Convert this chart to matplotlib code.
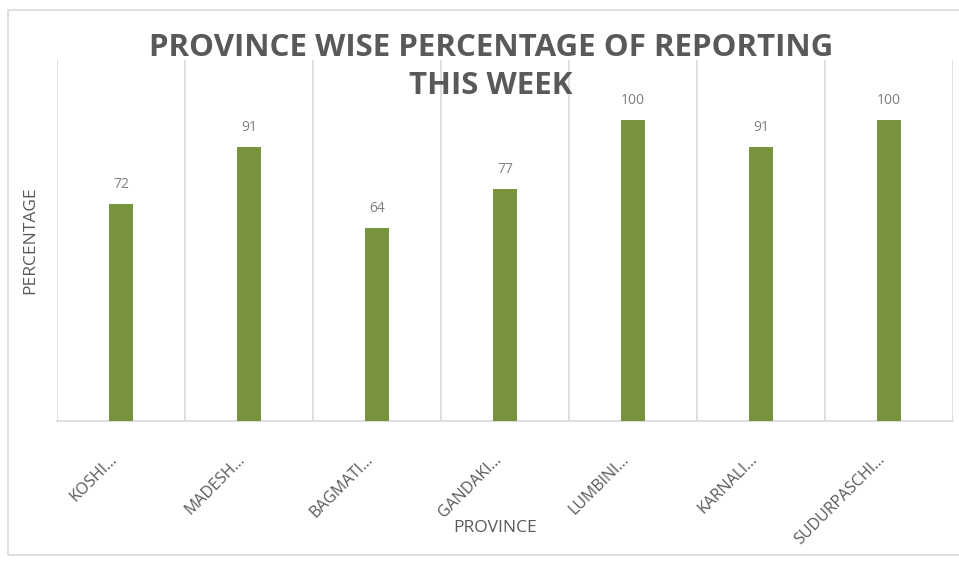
import matplotlib.pyplot as plt
import matplotlib.transforms as mtransforms
from matplotlib.patches import Rectangle

provinces = ["KOSHI…", "MADESH…", "BAGMATI…", "GANDAKI…", "LUMBINI…", "KARNALI…", "SUDURPASCHI…"]
percentage = [72, 91, 64, 77, 100, 91, 100]

bar_colour = "#77933C"
grid_colour = "#D9D9D9"
text_grey = "#595959"

W, H = 959, 561
fig = plt.figure(figsize=(W / 100, H / 100), dpi=100)
ax = fig.add_axes([57 / W, 1 - 421 / H, (953 - 57) / W, (421 - 60) / H])

x = list(range(len(provinces)))
bars = ax.bar(x, percentage, width=0.19, color=bar_colour, zorder=3)
ax.bar_label(bars, labels=[str(v) for v in percentage], padding=9,
             color="#7F7F7F", fontsize=10, family="Open Sans")

ax.set_xlim(-0.5, len(provinces) - 0.5)
ax.set_ylim(0, 120)

# vertical separators between categories
for b in range(len(provinces) + 1):
    ax.axvline(b - 0.5, color=grid_colour, linewidth=1.2, zorder=1)

for side in ["left", "right", "top"]:
    ax.spines[side].set_visible(False)
ax.spines["bottom"].set_color(grid_colour)
ax.spines["bottom"].set_linewidth(1.2)
ax.set_yticks([])
ax.set_xticks(x)
ax.set_xticklabels(provinces, rotation=45, ha="right", va="center",
                   rotation_mode="anchor", color=text_grey, fontsize=11.5,
                   family="Open Sans")
ax.tick_params(axis="x", length=0, pad=26)
offset = mtransforms.ScaledTranslation(-0.06, 0, fig.dpi_scale_trans)
for lab in ax.get_xticklabels():
    lab.set_transform(lab.get_transform() + offset)

fig.text(495 / W, 1 - 528 / H, "PROVINCE", ha="center", va="center",
         color=text_grey, fontsize=12.5, family="Open Sans")
fig.text(30 / W, 1 - 240 / H, "PERCENTAGE", ha="center", va="center",
         rotation=90, color=text_grey, fontsize=12.5, family="Open Sans")

fig.text(491 / W, 1 - 67 / H, "PROVINCE WISE PERCENTAGE OF REPORTING\nTHIS WEEK",
         ha="center", va="center", color=text_grey, fontsize=22.5,
         fontweight="bold", family="Open Sans", linespacing=1.36)

# outer chart frame
fig.patches.append(Rectangle((8 / W, 1 - 555 / H), (W + 5 - 8) / W, (555 - 10) / H,
                             transform=fig.transFigure, fill=False,
                             edgecolor=grid_colour, linewidth=1.2))

fig.savefig("out.png", dpi=100)
